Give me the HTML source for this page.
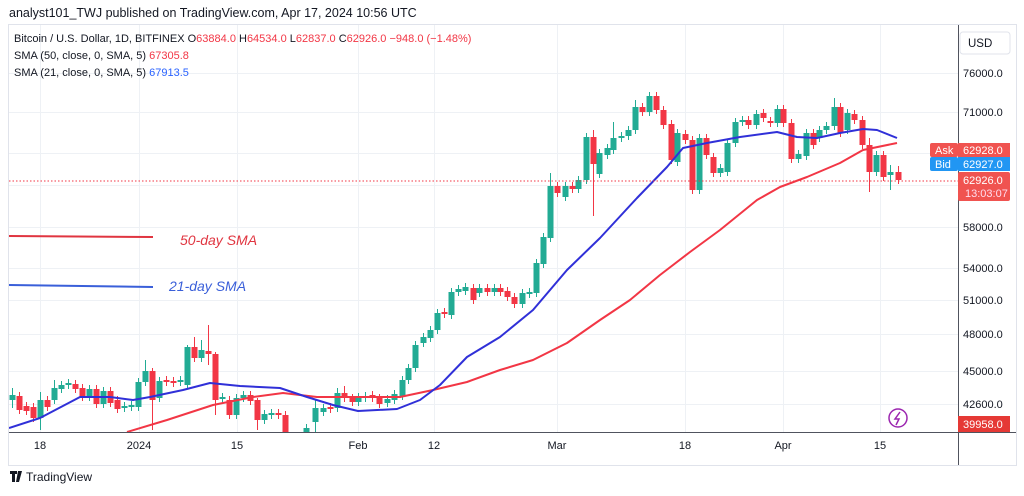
<!DOCTYPE html>
<html><head><meta charset="utf-8"><style>
body{margin:0;width:1024px;height:491px;background:#fff;overflow:hidden;font-family:"Liberation Sans",sans-serif}
</style></head><body>
<svg id="s" width="1024" height="491" xmlns="http://www.w3.org/2000/svg" font-family="Liberation Sans, sans-serif">
<defs><clipPath id="cp"><rect x="9" y="25" width="949" height="407"/></clipPath></defs>
<text x="9" y="17" font-size="12.5" fill="#131722">analyst101_TWJ published on TradingView.com, Apr 17, 2024 10:56 UTC</text>
<rect x="8.5" y="24.5" width="1008" height="441" fill="#fff" stroke="#e0e3eb"/>
<g stroke="#eef1f5" stroke-width="1" id="grid"></g>
<line x1="958.5" y1="25" x2="958.5" y2="465" stroke="#50535e"/>
<line x1="9" y1="432.5" x2="1016" y2="432.5" stroke="#50535e"/>
<g id="c" clip-path="url(#cp)"></g>
<g id="ma" clip-path="url(#cp)"></g>
<line x1="9" y1="181" x2="958" y2="181" stroke="#f23645" stroke-dasharray="1.5 2"/>
<line x1="9" y1="236" x2="153" y2="237" stroke="#e03540" stroke-width="2"/>
<text x="180" y="245" font-size="14" font-style="italic" fill="#e03540">50-day SMA</text>
<line x1="9" y1="285" x2="153" y2="287" stroke="#3a5fd9" stroke-width="2"/>
<text x="169" y="291" font-size="14" font-style="italic" fill="#3a5fd9">21-day SMA</text>
<g font-size="11" fill="#131722">
<text x="14" y="42">Bitcoin / U.S. Dollar, 1D, BITFINEX  O<tspan fill="#f23645">63884.0</tspan> H<tspan fill="#f23645">64534.0</tspan> L<tspan fill="#f23645">62837.0</tspan> C<tspan fill="#f23645">62926.0</tspan> <tspan fill="#f23645">−948.0 (−1.48%)</tspan></text>
<text x="14" y="59">SMA (50, close, 0, SMA, 5) <tspan fill="#f23645">67305.8</tspan></text>
<text x="14" y="76">SMA (21, close, 0, SMA, 5) <tspan fill="#2962ff">67913.5</tspan></text>
</g>
<rect x="960" y="32" width="50" height="22" rx="3" fill="#fff" stroke="#e0e3eb"/>
<text x="968" y="47" font-size="11.5" fill="#131722">USD</text>
<g font-size="11" fill="#131722" id="pl"></g>
<rect x="930" y="143" width="28" height="14" rx="2" fill="#f05350"/><text x="935" y="154" font-size="11" fill="#fff">Ask</text>
<rect x="958" y="143" width="52" height="14" fill="#f05350"/><text x="963" y="154" font-size="11" fill="#fff">62928.0</text>
<rect x="930" y="157" width="28" height="14" rx="2" fill="#2196f3"/><text x="935" y="168" font-size="11" fill="#fff">Bid</text>
<rect x="958" y="157" width="52" height="14" fill="#2196f3"/><text x="963" y="168" font-size="11" fill="#fff">62927.0</text>
<rect x="958" y="172" width="52" height="29" rx="2" fill="#f05350"/><text x="963" y="184" font-size="11" fill="#fff">62926.0</text><text x="965" y="197" font-size="11" fill="#fde">13:03:07</text>
<rect x="958" y="416" width="52" height="16" fill="#e53935"/><text x="963" y="428" font-size="11" fill="#fff">39958.0</text>
<circle cx="898" cy="418" r="9" fill="#fff" stroke="#9c27b0" stroke-width="1.5"/><path d="M900 412 L895 419 L899 419 L896 425" stroke="#9c27b0" fill="none" stroke-width="1.5"/>
<g font-size="11" fill="#131722" id="tl"></g>
<path d="M10 471h7v3h-2v8h-3v-8h-2z M18 471h4l-3 11h-3z" fill="#131722"/>
<text x="26" y="481" font-size="12" fill="#131722">TradingView</text>
</svg>
<script>
const NS="http://www.w3.org/2000/svg";
function el(p,t,a,txt){const e=document.createElementNS(NS,t);for(const k in a)e.setAttribute(k,a[k]);if(txt)e.textContent=txt;document.getElementById(p).appendChild(e);return e;}
[73,112,153,185,227,268,300,334,371,404].forEach(y=>el('grid','line',{x1:9,x2:958,y1:y+.5,y2:y+.5}));
[40,139,237,358,434,557,685,783,880].forEach(x=>el('grid','line',{x1:x+.5,x2:x+.5,y1:25,y2:432}));
[[73,"76000.0"],[112,"71000.0"],[227,"58000.0"],[268,"54000.0"],[300,"51000.0"],[334,"48000.0"],[371,"45000.0"],[404,"42600.0"]].forEach(a=>el('pl','text',{x:963,y:a[0]+4},a[1]));
[[40,"18"],[139,"2024"],[237,"15"],[358,"Feb"],[434,"12"],[557,"Mar"],[685,"18"],[783,"Apr"],[880,"15"]].forEach(a=>el('tl','text',{x:a[0],y:449,"text-anchor":"middle"},a[1]));
const C=[[12,395,400,'g',388,408],[19,396,410,'r'],[26,406,411,'r'],[33,407,418,'r'],[40,400,418,'g',392,430],[47,400,407,'r'],[54,388,400,'g',380],[61,385,389,'g'],[68,383,385,'g'],[75,384,389,'r'],[82,388,397,'r'],[89,389,397,'g'],[96,389,404,'r'],[103,391,404,'g'],[110,391,403,'r'],[117,400,409,'r'],[124,406,408,'g'],[131,405,407,'g'],[138,382,407,'g'],[145,371,382,'g',360],[152,371,400,'r',368,430],[159,381,398,'g'],[166,380,382,'r'],[173,381,383,'r'],[180,380,382,'g'],[187,347,385,'g',345],[194,347,358,'r',337],[201,350,358,'g',340],[208,351,354,'r',325,365],[215,354,400,'r',352,415],[222,397,399,'g'],[229,400,415,'r'],[236,398,415,'g'],[243,395,398,'g'],[250,395,401,'r'],[257,400,420,'r',398,430],[264,414,420,'g'],[271,413,415,'g'],[278,413,415,'r'],[285,415,440,'r'],[292,436,445,'r'],[299,440,450,'g'],[306,428,445,'g',424],[315,408,422,'g',400,432],[323,408,412,'g'],[330,407,409,'r'],[337,393,408,'g',388],[344,393,398,'r',386],[352,398,402,'r'],[358,397,402,'g'],[365,396,398,'g'],[372,395,398,'r'],[379,398,404,'r'],[387,399,403,'g'],[394,394,400,'g'],[402,380,396,'g'],[408,368,380,'g'],[415,345,368,'g'],[423,337,343,'g'],[430,330,338,'g'],[437,313,330,'g'],[444,312,314,'r'],[451,292,315,'g'],[458,289,292,'g'],[465,287,291,'g'],[473,288,300,'r'],[479,288,293,'g'],[487,288,292,'r'],[494,288,292,'g'],[500,288,292,'r'],[507,291,297,'r'],[514,297,304,'r'],[522,293,304,'g'],[529,292,294,'g'],[536,263,293,'g'],[543,237,264,'g'],[550,186,238,'g',173],[557,186,193,'r'],[565,186,197,'g'],[572,186,189,'r'],[578,180,189,'g'],[586,137,180,'g'],[593,137,164,'r',130,216],[599,153,174,'g'],[607,148,155,'g'],[613,138,150,'g',122],[621,136,138,'g'],[628,130,136,'g'],[635,107,130,'g',100],[642,107,112,'r'],[649,96,112,'g',92],[656,96,110,'r',92],[663,110,125,'r'],[671,124,160,'r'],[677,133,162,'g'],[685,134,140,'r'],[692,140,190,'r'],[699,138,190,'g'],[706,138,155,'r'],[713,157,173,'r'],[720,168,173,'g'],[727,143,172,'g'],[735,122,143,'g'],[742,120,122,'g'],[748,120,125,'r'],[756,114,125,'g'],[763,113,118,'r'],[770,121,123,'r'],[777,109,123,'g'],[783,109,123,'r'],[791,123,159,'r'],[798,154,159,'g'],[806,133,156,'g'],[813,133,145,'r'],[819,130,138,'g'],[826,126,130,'g'],[834,107,126,'g',98],[840,107,133,'r'],[847,113,130,'g'],[854,114,120,'r'],[862,120,145,'r'],[869,145,172,'r',138,192],[876,155,172,'g'],[883,155,177,'r'],[890,172,175,'g',165,190],[898,172,180,'r',166]];
C.forEach(c=>{const col=c[3]=='g'?'#22ab94':'#f23645';const h=c[4]||c[1]-4,l=c[5]||c[2]+4;
el('c','line',{x1:c[0]+.5,x2:c[0]+.5,y1:h,y2:l,stroke:col,'stroke-width':1});
el('c','rect',{x:c[0]-2.5,y:c[1],width:6,height:Math.max(c[2]-c[1],1.5),fill:col});});
const B=[[9,428],[40,418],[80,397],[110,397],[133,400],[150,397],[183,390],[210,383],[240,386],[280,388],[307,397],[333,405],[358,411],[397,409],[420,400],[440,385],[467,357],[500,337],[533,310],[567,270],[600,238],[637,198],[667,167],[683,148],[707,143],[740,137],[777,132],[797,137],[817,138],[840,133],[863,129],[877,130],[897,138]];
const R=[[127,432],[167,420],[213,405],[253,397],[283,393],[317,397],[367,397],[400,397],[433,390],[467,382],[500,370],[533,360],[567,343],[600,320],[630,300],[660,275],[690,252],[720,230],[757,200],[780,187],[807,177],[840,163],[863,150],[897,143]];
el('ma','polyline',{points:R.join(' '),fill:'none',stroke:'#f23645','stroke-width':2,'stroke-linejoin':'round'});
el('ma','polyline',{points:B.join(' '),fill:'none',stroke:'#3030d8','stroke-width':2,'stroke-linejoin':'round'});
</script>
</body></html>
